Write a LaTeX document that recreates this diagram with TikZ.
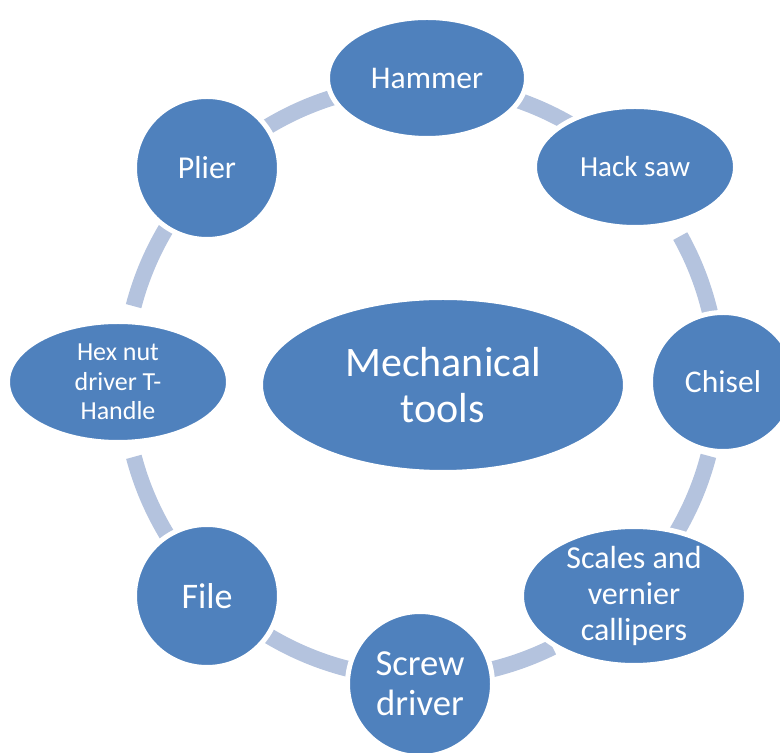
\documentclass[tikz,border=0pt]{standalone}
\usepackage{fontspec}
\setmainfont{Carlito}
\usetikzlibrary{shapes.geometric}
\definecolor{nodeblue}{RGB}{79,129,189}
\definecolor{ringblue}{RGB}{180,195,222}
\begin{document}
\begin{tikzpicture}[x=0.75pt,y=0.75pt,
  bub/.style={ellipse, fill=nodeblue, draw=white, line width=3.75pt, inner sep=0pt},
  lab/.style={text=white, align=center, inner sep=0pt},
  link/.style={draw=ringblue, line width=12pt}]
\clip (0,0) rectangle (780,752);
\coordinate (c) at (421,371);
% ring segments
\draw[link] ([shift={(122.5:297)}]c) arc[start angle=122.5, end angle=106.3, radius=222.75pt];
\draw[link] ([shift={(71.2:297)}]c) arc[start angle=71.2, end angle=60.1, radius=222.75pt];
\draw[link] ([shift={(29.2:297)}]c) arc[start angle=29.2, end angle=12.5, radius=222.75pt];
\draw[link] ([shift={(-14.6:297)}]c) arc[start angle=-14.6, end angle=-31, radius=222.75pt];
\draw[link] ([shift={(-63.7:297)}]c) arc[start angle=-63.7, end angle=-77.6, radius=222.75pt];
\draw[link] ([shift={(-102.5:297)}]c) arc[start angle=-102.5, end angle=-122.4, radius=222.75pt];
\draw[link] ([shift={(-147.2:297)}]c) arc[start angle=-147.2, end angle=-165.2, radius=222.75pt];
\draw[link] ([shift={(165.4:297)}]c) arc[start angle=165.4, end angle=147.9, radius=222.75pt];
% nodes
\node[bub, minimum width=273.75pt, minimum height=131.25pt] (mech) at (443,367) {};
\node[bub, minimum width=149.25pt, minimum height=90.75pt] (hammer) at (427,674) {};
\node[bub, minimum width=150.75pt, minimum height=90.75pt] (hack) at (635,585) {};
\node[bub, minimum width=108.75pt, minimum height=104.25pt] (chisel) at (723,370) {};
\node[bub, minimum width=168.75pt, minimum height=104.25pt] (scales) at (634,156) {};
\node[bub, minimum width=108.75pt, minimum height=108.75pt] (screw) at (420,68) {};
\node[bub, minimum width=108.75pt, minimum height=107.25pt] (file) at (207,156) {};
\node[bub, minimum width=165.75pt, minimum height=90.75pt] (hex) at (118,370) {};
\node[bub, minimum width=108.75pt, minimum height=107.25pt] (plier) at (207,584) {};
% labels
\node[lab, font=\fontsize{31.5}{34.5}\selectfont] (mech-t) at (mech.center) {Mechanical\\tools};
\node[lab, font=\fontsize{23.7}{28}\selectfont] (hammer-t) at (hammer.center) {Hammer};
\node[lab, font=\fontsize{21.8}{26}\selectfont] (hack-t) at (hack.center) {Hack saw};
\node[lab, font=\fontsize{23.7}{28}\selectfont] (chisel-t) at (chisel.center) {Chisel};
\node[lab, font=\fontsize{24}{27}\selectfont] (scales-t) at (scales.center) {Scales and\\vernier\\callipers};
\node[lab, font=\fontsize{27.5}{30}\selectfont] (screw-t) at (screw.center) {Screw\\driver};
\node[lab, font=\fontsize{27}{30}\selectfont] (file-t) at (file.center) {File};
\node[lab, font=\fontsize{19.5}{22}\selectfont] (hex-t) at (hex.center) {Hex nut\\driver T-\\Handle};
\node[lab, font=\fontsize{23.9}{28}\selectfont] (plier-t) at (plier.center) {Plier};
\end{tikzpicture}
\end{document}
